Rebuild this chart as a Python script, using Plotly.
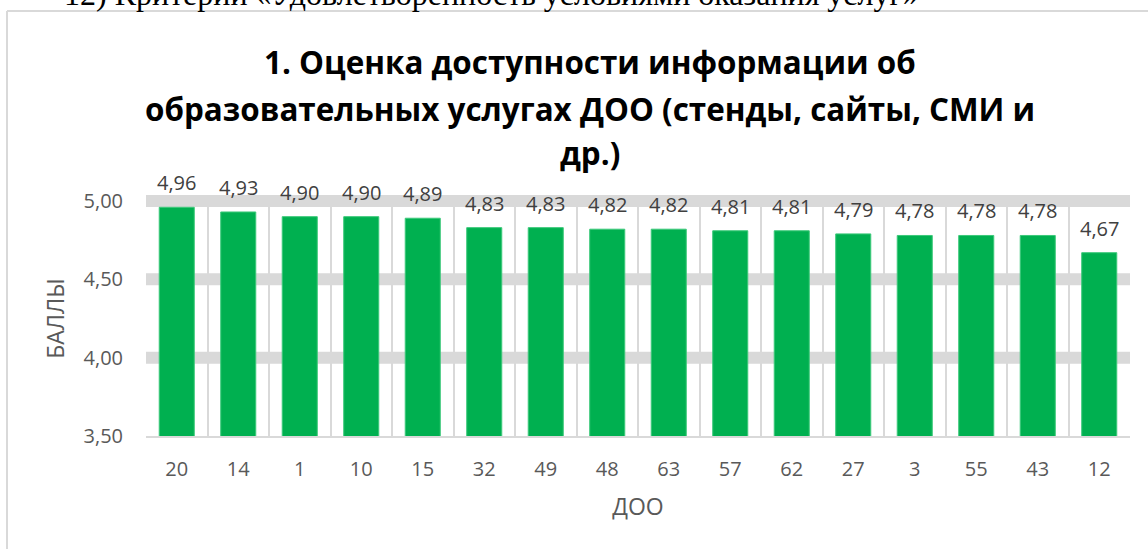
import plotly.graph_objects as go

categories = ["20", "14", "1", "10", "15", "32", "49", "48", "63", "57", "62", "27", "3", "55", "43", "12"]
values = [4.96, 4.93, 4.90, 4.90, 4.89, 4.83, 4.83, 4.82, 4.82, 4.81, 4.81, 4.79, 4.78, 4.78, 4.78, 4.67]
y_ticks = [3.5, 4.0, 4.5, 5.0]
y_range = [3.5, 5.0]
title_lines = ["1. Оценка доступности информации об",
               "образовательных услугах ДОО (стенды, сайты, СМИ и",
               "др.)"]
top_text = "12) Критерии «Удовлетворенность условиями оказания услуг»"

W, H = 1148, 549
L, R, T, B = 146, 18, 201, 113
pw, ph = W - L - R, H - T - B

def px_x(x):
    return (x - L) / pw

def px_y(y):
    return (H - B - y) / ph

def val_to_paper(v):
    return (v - y_range[0]) / (y_range[1] - y_range[0])

fig = go.Figure()
fig.add_trace(go.Bar(
    x=categories, y=values,
    marker=dict(color="#00B050", line=dict(color="#3CC97A", width=1)),
    width=0.57,
    hoverinfo="skip",
))

annotations = []
for i, v in enumerate(values):
    annotations.append(dict(
        x=i, y=v, xref="x", yref="y", text=f"{v:.2f}".replace(".", ","),
        showarrow=False, yanchor="bottom", yshift=9,
        font=dict(family="Open Sans", size=20, color="#404040"),
    ))

title_y = [62, 108, 152]
for line, yy in zip(title_lines, title_y):
    annotations.append(dict(
        x=px_x(590), y=px_y(yy), xref="paper", yref="paper", text=f"<b>{line}</b>",
        showarrow=False, xanchor="center", yanchor="middle",
        font=dict(family="Open Sans", size=31.4, color="#000000"),
    ))

annotations.append(dict(
    x=px_x(62), y=px_y(14), xref="paper", yref="paper", text=top_text,
    showarrow=False, xanchor="left", yanchor="bottom",
    font=dict(family="Liberation Serif", size=32, color="#000000"),
))

shapes = [
    dict(type="line", xref="paper", yref="paper",
         x0=px_x(7), x1=px_x(1148), y0=px_y(11), y1=px_y(11),
         line=dict(color="#D9D9D9", width=2), layer="below"),
    dict(type="line", xref="paper", yref="paper",
         x0=px_x(7), x1=px_x(7), y0=px_y(11), y1=px_y(549),
         line=dict(color="#D9D9D9", width=2), layer="below"),
]
for t in y_ticks[1:]:
    shapes.append(dict(type="line", xref="paper", yref="paper",
                       x0=0, x1=1, y0=val_to_paper(t), y1=val_to_paper(t),
                       line=dict(color="#D9D9D9", width=12), layer="below"))

fig.update_layout(
    width=W, height=H,
    margin=dict(l=L, r=R, t=T, b=B, autoexpand=False),
    paper_bgcolor="#FFFFFF", plot_bgcolor="#FFFFFF",
    showlegend=False,
    annotations=annotations,
    shapes=shapes,
    xaxis=dict(
        type="category", tickson="boundaries", showgrid=True,
        range=[-0.5, len(categories) - 0.5],
        gridcolor="#D9D9D9", gridwidth=2,
        showline=True, linecolor="#D9D9D9", linewidth=2,
        ticks="", ticklabelstandoff=14,
        tickfont=dict(family="Open Sans", size=20, color="#595959"),
        tickangle=0,
        title=dict(text="ДОО", font=dict(family="Open Sans", size=23, color="#595959"), standoff=18),
    ),
    yaxis=dict(
        range=y_range, tickvals=y_ticks,
        ticktext=[f"{t:.2f}".replace(".", ",") for t in y_ticks],
        showgrid=False,
        zeroline=False, showline=False,
        ticks="", ticklabelstandoff=22,
        tickfont=dict(family="Open Sans", size=20, color="#595959"),
        title=dict(text="БАЛЛЫ", font=dict(family="Open Sans", size=23, color="#595959"), standoff=12),
    ),
)

fig.write_html("out.html", config={"displayModeBar": False},
               post_script="document.documentElement.style.margin='0';document.documentElement.style.overflow='hidden';document.body.style.margin='0';document.body.style.overflow='hidden';")
